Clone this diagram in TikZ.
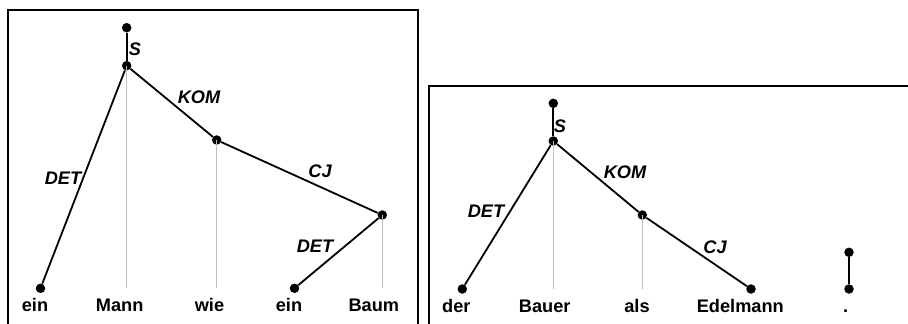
\documentclass[tikz,border=0pt]{standalone}
\usepackage{fontspec}
\setmainfont{Liberation Sans}
\begin{document}
\begin{tikzpicture}[x=1pt,y=-1pt,
  dot/.style={circle,fill=black,inner sep=0pt,minimum size=9.5pt},
  word/.style={anchor=base,inner sep=0pt,font=\fontsize{18.2}{20}\selectfont\bfseries},
  lab/.style={inner sep=0pt,font=\fontsize{18.2}{20}\selectfont\bfseries\itshape},
  edge/.style={line width=1.8pt},
  proj/.style={line width=1.5pt,draw=black!25},
  frame/.style={line width=2.2pt}]
\useasboundingbox (0,0) rectangle (908,324);
% frames
\draw[frame] (7.7,330) -- (7.7,10) -- (418.3,10) -- (418.3,330);
\draw[frame] (428.7,330) -- (428.7,85.7) -- (915,85.7);
% ---------- left tree ----------
\coordinate (Lmannb) at (126.7,288.3);
\coordinate (Lwieb) at (216.7,288.3);
\coordinate (Lbaumb) at (382.3,288.3);
\node[dot] (Ltop) at (126.7,27.7) {};
\node[dot] (Lmann) at (126.7,65.7) {};
\node[dot] (Lwie) at (216.7,140) {};
\node[dot] (Lbaum) at (382.3,215) {};
\node[dot] (Lein1) at (40.5,288.3) {};
\node[dot] (Lein2) at (294.5,288.3) {};
\draw[proj] (Lmann.center) -- (Lmannb);
\draw[proj] (Lwie.center) -- (Lwieb);
\draw[proj] (Lbaum.center) -- (Lbaumb);
\draw[edge] (Ltop) -- (Lmann);
\draw[edge] (Lmann) -- (Lein1);
\draw[edge] (Lmann) -- (Lwie);
\draw[edge] (Lwie) -- (Lbaum);
\draw[edge] (Lbaum) -- (Lein2);
\node[lab] (LlS) at (135,49.3) {S};
\node[lab] (LlKOM) at (199,97.5) {KOM};
\node[lab] (LlDET1) at (63,178.3) {DET};
\node[lab] (LlCJ) at (320,171.5) {CJ};
\node[lab] (LlDET2) at (315,246) {DET};
\node[word] (Lw1) at (35,311.7) {ein};
\node[word] (Lw2) at (119.7,311.7) {Mann};
\node[word] (Lw3) at (209.5,311.7) {wie};
\node[word] (Lw4) at (289,311.7) {ein};
\node[word] (Lw5) at (373.8,311.7) {Baum};
% ---------- right tree ----------
\coordinate (Rbauerb) at (553.3,289);
\coordinate (Ralsb) at (642.3,289);
\node[dot] (Rtop) at (553.3,103.3) {};
\node[dot] (Rbauer) at (553.3,141) {};
\node[dot] (Rals) at (642.3,215) {};
\node[dot] (Rder) at (462.3,289) {};
\node[dot] (Redel) at (751,289) {};
\node[dot] (Rpt1) at (849,252.3) {};
\node[dot] (Rpt2) at (849,289) {};
\draw[proj] (Rbauer.center) -- (Rbauerb);
\draw[proj] (Rals.center) -- (Ralsb);
\draw[edge] (Rtop) -- (Rbauer);
\draw[edge] (Rbauer) -- (Rder);
\draw[edge] (Rbauer) -- (Rals);
\draw[edge] (Rals) -- (Redel);
\draw[edge] (Rpt1) -- (Rpt2);
\node[lab] (RlS) at (560,126) {S};
\node[lab] (RlKOM) at (625,172.5) {KOM};
\node[lab] (RlDET) at (486,211.7) {DET};
\node[lab] (RlCJ) at (715,247.5) {CJ};
\node[word] (Rw1) at (456.3,312.3) {der};
\node[word] (Rw2) at (544.7,312.3) {Bauer};
\node[word] (Rw3) at (637,312.3) {als};
\node[word] (Rw4) at (740.3,312.3) {Edelmann};
\node[word] (Rw5) at (845.7,312.3) {.};
\end{tikzpicture}
\end{document}
